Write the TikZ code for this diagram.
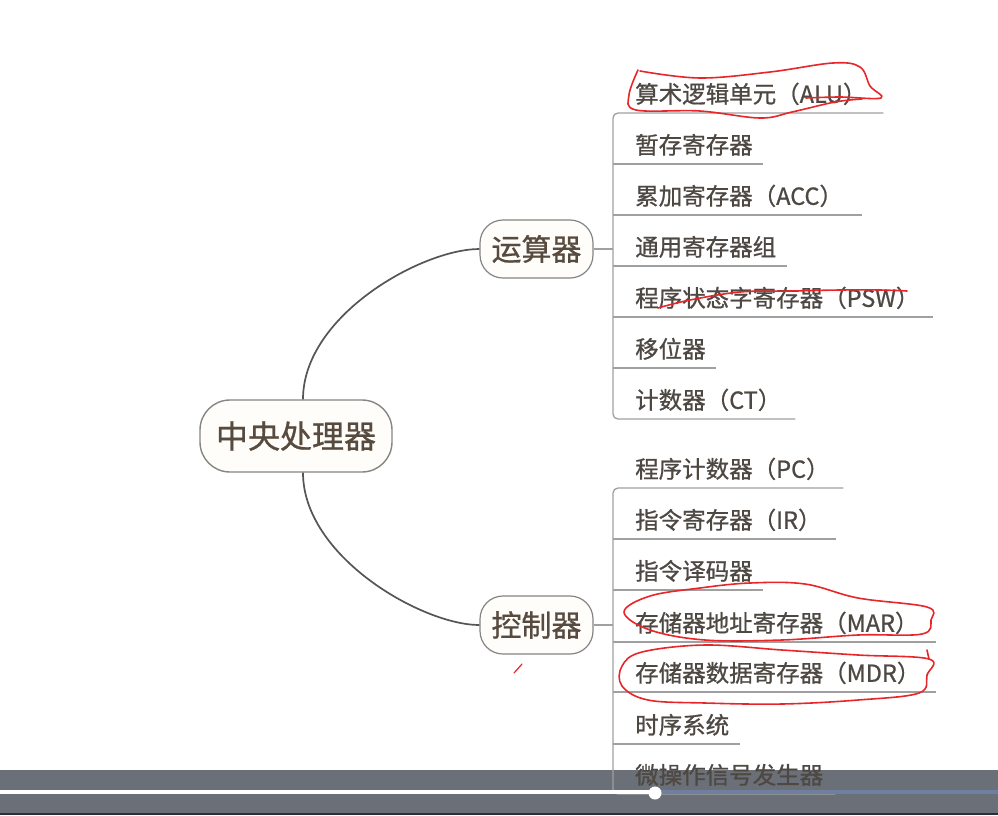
\documentclass[tikz,border=0pt]{standalone}
\usepackage{fontspec}
\setmainfont{Noto Sans CJK SC}
\newfontfamily\cjkb{Noto Sans CJK SC}[FakeBold=0.8]
\definecolor{txt}{HTML}{4E4843}
\definecolor{roottxt}{HTML}{574A3F}
\definecolor{boxline}{HTML}{858585}
\definecolor{boxfill}{HTML}{FFFDF9}
\definecolor{lightline}{HTML}{A0A0A0}
\definecolor{curvec}{HTML}{555555}
\definecolor{pen}{HTML}{E8262A}
\definecolor{barc}{HTML}{6B6F78}
\definecolor{bardark}{HTML}{2B2E35}
\definecolor{progc}{HTML}{6E7FA0}
\begin{document}
\begin{tikzpicture}[x=1pt,y=-1pt,
 rootbox/.style={draw=boxline, line width=1.4pt, fill=boxfill, rounded corners=30pt, minimum width=192pt, minimum height=72pt, inner sep=0pt, text=roottxt, font=\cjkb\fontsize{32}{38}\selectfont},
 branchbox/.style={draw=boxline, line width=1.2pt, fill=boxfill, rounded corners=23pt, minimum width=113pt, minimum height=58pt, inner sep=0pt, text=roottxt, font=\cjkb\fontsize{30}{36}\selectfont},
 item/.style={anchor=south west, inner sep=0pt, text height=17pt, text depth=10pt, align=left, text=txt, font=\cjkb\fontsize{23.5}{28}\selectfont},
 uline/.style={draw=lightline, line width=1.3pt},
 curve/.style={draw=curvec, line width=1.7pt},
 redpen/.style={draw=pen, line width=1.6pt, line cap=round, line join=round}
]
\useasboundingbox (0,0) rectangle (998,815);
\fill[white] (0,0) rectangle (998,815);
% player bar background
\fill[barc] (0,770) rectangle (998,813);
\fill[bardark] (0,813) rectangle (998,815);

% main nodes
\node[rootbox] (root) at (296,436) {中央处理器};
\node[branchbox] (yun) at (536.5,249) {运算器};
\node[branchbox] (kong) at (536.5,625) {控制器};

% upper items
\node[item, text width=270pt] (a1) at (613,113) {\hspace*{22pt}算术逻辑单元（ALU）};
\node[item, text width=150pt] (a2) at (613,164) {\hspace*{22pt}暂存寄存器};
\node[item, text width=249pt] (a3) at (613,215) {\hspace*{22pt}累加寄存器（ACC）};
\node[item, text width=174pt] (a4) at (613,266) {\hspace*{22pt}通用寄存器组};
\node[item, text width=320pt] (a5) at (613,317) {\hspace*{22pt}程序状态字寄存器（PSW）};
\node[item, text width=103pt] (a6) at (613,368) {\hspace*{22pt}移位器};
\node[item, text width=182pt] (a7) at (613,419) {\hspace*{22pt}计数器（CT）};

% lower items
\node[item, text width=230pt] (b1) at (613,488) {\hspace*{22pt}程序计数器（PC）};
\node[item, text width=223pt] (b2) at (613,539) {\hspace*{22pt}指令寄存器（IR）};
\node[item, text width=150pt] (b3) at (613,590) {\hspace*{22pt}指令译码器};
\node[item, text width=323pt] (b4) at (613,642) {\hspace*{22pt}存储器地址寄存器（MAR）};
\node[item, text width=323pt] (b5) at (613,692) {\hspace*{22pt}存储器数据寄存器（MDR）};
\node[item, text width=127pt] (b6) at (613,744) {\hspace*{22pt}时序系统};
\node[item, text width=222pt] (b7) at (613,794) {\hspace*{22pt}微操作信号发生器};

% brackets and underlines
\draw[uline, rounded corners=5pt] (a1.south east) -- (a1.south west) -- (a7.south west) -- (a7.south east);
\foreach \n in {a2,a3,a4,a5,a6} \draw[uline] (\n.south west) -- (\n.south east);
\draw[uline, rounded corners=5pt] (b1.south east) -- (b1.south west) -- (b7.south west) -- (b7.south east);
\foreach \n in {b2,b3,b4,b5,b6} \draw[uline] (\n.south west) -- (\n.south east);

% connectors
\draw[uline] (yun.east) -- (yun.east -| a1.south west);
\draw[uline] (kong.east) -- (kong.east -| b1.south west);
\draw[curve] ([xshift=7pt]root.north) .. controls +(0,-84) and +(-57,0) .. (yun.west);
\draw[curve] ([xshift=7pt]root.south) .. controls +(0,84) and +(-57,0) .. (kong.west);

% red pen annotations
\draw[redpen] plot[smooth, tension=0.6] coordinates {(640,71) (700,78) (770,72) (833,63) (860,67) (870,86) (881,98) (840,97) (806,98)};
\draw[redpen] plot[smooth, tension=0.6] coordinates {(638,70) (629,95) (636,110) (700,111) (760,118) (792,112) (835,102) (862,99)};
\draw[redpen] plot[smooth, tension=0.6] coordinates {(658,308) (690,300) (740,292) (790,291) (840,290) (880,290) (907,291)};
\draw[redpen] plot[smooth cycle, tension=0.6] coordinates {(624,612) (650,596) (700,588) (750,583) (805,584) (858,598) (927,607) (931,620) (922,634) (858,635) (782,640) (705,640) (650,630)};
\draw[redpen] plot[smooth cycle, tension=0.6] coordinates {(622,666) (642,652) (705,645) (782,650) (858,655) (929,659) (927,675) (919,693) (858,700) (782,704) (705,703) (648,700) (622,686)};
\draw[redpen] (929,659) -- (927,650);
\draw[redpen, line width=1.2pt] (514,673) -- (522,664);

% progress bar
\draw[white, line width=4pt] (0,792) -- (655,792);
\draw[progc, line width=4pt] (655,792) -- (998,792);
\fill[white] (655,793) circle (6.5);
\end{tikzpicture}
\end{document}
